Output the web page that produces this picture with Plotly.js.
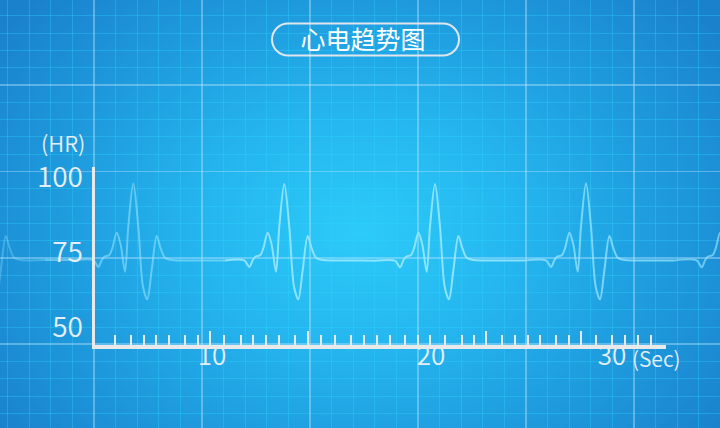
<!DOCTYPE html>
<html>
<head>
<meta charset="utf-8">
<script src="https://cdn.plot.ly/plotly-3.0.1.min.js"></script>
<style>
  html, body { margin: 0; padding: 0; }
  body { width: 720px; height: 428px; overflow: hidden;
    background: radial-gradient(ellipse 62% 78% at 50% 54%, #2ccbf9 0%, #25b6ef 35%, #1e99dc 70%, #1a82cd 100%); }
  #chart { width: 720px; height: 428px; }
</style>
</head>
<body>
<div id="chart"></div>
<script>
// ECG trace: time (seconds) and heart-rate values
const timeSec = [
  -0.395, -0.18, 0.04, 0.29, 0.49, 0.705, 1.07, 2.25, 3.5,
  4.665, 4.915, 5.09, 5.215, 5.465, 5.615, 5.835, 6.035, 6.25, 6.415, 6.665, 6.915, 7.15, 7.365, 7.585, 7.835, 8.035, 8.25, 8.615, 10.0, 11.25,
  12.215, 12.465, 12.64, 12.765, 13.015, 13.165, 13.385, 13.585, 13.8, 13.965, 14.215, 14.465, 14.7, 14.915, 15.135, 15.385, 15.585, 15.8, 16.165, 17.5, 18.75,
  19.75, 20.0, 20.175, 20.3, 20.55, 20.7, 20.92, 21.12, 21.335, 21.5, 21.75, 22.0, 22.235, 22.45, 22.67, 22.92, 23.12, 23.335, 23.7, 25.0, 26.25,
  27.3, 27.55, 27.725, 27.85, 28.1, 28.25, 28.47, 28.67, 28.885, 29.05, 29.3, 29.55, 29.785, 30.0, 30.22, 30.47, 30.67, 30.885, 31.25, 32.5, 33.75,
  34.835, 35.085, 35.26, 35.385, 35.635, 35.785, 36.005, 36.205
];
const heartRate = [
  63.43, 59.23, 69.0, 80.33, 76.23, 73.1, 72.33, 72.3, 72.3,
  72.3, 70.0, 72.33, 73.43, 74.0, 76.23, 81.43, 77.33, 68.43, 83.43, 97.8, 83.43, 63.43, 59.23, 69.0, 80.33, 76.23, 73.1, 72.33, 72.2, 72.2,
  72.2, 70.0, 72.33, 73.43, 74.0, 76.23, 81.43, 77.33, 68.43, 83.43, 97.67, 83.43, 63.43, 59.23, 69.0, 80.33, 76.23, 73.1, 72.33, 72.2, 72.1,
  72.1, 69.9, 72.33, 73.43, 74.0, 76.23, 81.43, 77.33, 68.43, 83.43, 97.67, 83.43, 63.43, 59.23, 69.0, 80.33, 76.23, 73.1, 72.33, 72.2, 72.2,
  72.2, 70.0, 72.33, 73.43, 74.0, 76.23, 81.43, 77.33, 68.43, 83.43, 97.9, 83.43, 63.43, 59.23, 69.0, 80.33, 76.23, 73.1, 72.33, 72.2, 72.2,
  72.2, 69.9, 72.33, 73.43, 74.0, 76.23, 81.43, 77.33
];
// Axis labels
const xTickVals = [10.6, 21.55, 30.6];
const xTickText = ['10', '20', '30'];
const yTickVals = [100, 75, 50];
const yTickText = ['100', '75', '50'];
// Decorative axis tick marks (seconds)
const tickMajorSec = [10.475, 15.375, 24.3, 29.05];
const tickMinorSec = [5.75, 6.525, 7.175, 7.8, 8.45, 9.25, 9.9, 11.2, 12.05, 12.65, 13.3, 13.95, 14.725,
  16.025, 16.75, 17.525, 18.175, 18.85, 19.475, 20.25, 20.875, 21.5, 22.25, 23.075, 23.675,
  25.075, 25.75, 26.375, 27.0, 27.775, 28.425, 29.8, 30.575, 31.25, 31.875, 32.525, 33.275];
const titleText = '心电趋势图';
const xUnit = '(Sec)';
const yUnit = '(HR)';

// ---- styling ----
const FONT = "'Noto Sans CJK SC', 'Noto Sans', sans-serif";
const LABEL = '#e6eef6';
const AXIS = '#e9e9e9';
const WT = 350;
// line brightness varies along the trace (glow fades toward the edges)
const segBounds = [2.25, 11.25, 26.25, 33.75];
const segAlpha = [0.32, 0.55, 0.88, 0.72, 0.62];

const traces = [];
traces.push({x: [], y: [], xaxis: 'x', yaxis: 'y', type: 'scatter', hoverinfo: 'skip'});
let seg = 0, cx = [], cy = [];
for (let i = 0; i < timeSec.length; i++) {
  cx.push(timeSec[i]); cy.push(heartRate[i]);
  if (seg < segBounds.length && timeSec[i] === segBounds[seg]) {
    traces.push({x: cx, y: cy, xaxis: 'x2', yaxis: 'y2', type: 'scatter', mode: 'lines',
      line: {color: 'rgba(155,232,255,' + segAlpha[seg] + ')', width: 2, shape: 'spline', smoothing: 0.9}, hoverinfo: 'skip'});
    seg++; cx = [timeSec[i]]; cy = [heartRate[i]];
  }
}
traces.push({x: cx, y: cy, xaxis: 'x2', yaxis: 'y2', type: 'scatter', mode: 'lines',
  line: {color: 'rgba(155,232,255,' + segAlpha[seg] + ')', width: 2, shape: 'spline', smoothing: 0.9}, hoverinfo: 'skip'});
traces.push({x: [], y: [], xaxis: 'x3', yaxis: 'y3', type: 'scatter', hoverinfo: 'skip'});

const W = 720, H = 428;
const pill = 'M 288,23.5 L 443,23.5 C 451.8,23.5 459,30.7 459,39.5 C 459,48.3 451.8,55.5 443,55.5 ' +
             'L 288,55.5 C 279.2,55.5 272,48.3 272,39.5 C 272,30.7 279.2,23.5 288,23.5 Z';

const layout = {
  width: W, height: H,
  margin: {l: 0, r: 0, t: 0, b: 0, pad: 0},
  paper_bgcolor: 'rgba(0,0,0,0)',
  plot_bgcolor: 'rgba(0,0,0,0)',
  showlegend: false,
  font: {family: FONT, color: LABEL, weight: WT},
  title: {text: titleText, x: 363 / W, y: 1 - 40 / H, xanchor: 'center', yanchor: 'middle', xref: 'paper', yref: 'paper',
    font: {family: FONT, size: 25, color: '#ffffff', weight: 400}},
  // background grid
  xaxis: {domain: [0, 1], range: [0, W], showticklabels: false, ticks: '', zeroline: false, fixedrange: true,
    showgrid: true, tickmode: 'linear', tick0: 94, dtick: 108, gridcolor: 'rgba(185,228,255,0.42)', gridwidth: 1.7,
    minor: {showgrid: true, tickmode: 'linear', tick0: 94, dtick: 21.6, gridcolor: 'rgba(45,215,255,0.33)', gridwidth: 1}},
  yaxis: {domain: [0, 1], range: [H, 0], showticklabels: false, ticks: '', zeroline: false, fixedrange: true,
    showgrid: true, tickmode: 'linear', tick0: 85.1, dtick: 86.4, gridcolor: 'rgba(185,228,255,0.42)', gridwidth: 1.7,
    minor: {showgrid: true, tickmode: 'linear', tick0: 85.1, dtick: 17.28, gridcolor: 'rgba(45,215,255,0.33)', gridwidth: 1}},
  // ECG plot
  xaxis2: {domain: [0, 1], range: [0, 36], anchor: 'y2', showgrid: false, zeroline: false, showline: false,
    ticks: '', tickmode: 'array', tickvals: xTickVals, ticktext: xTickText, ticklabelstandoff: -6,
    tickfont: {family: FONT, size: 26, color: LABEL, weight: WT}, fixedrange: true},
  yaxis2: {domain: [84 / H, 1], range: [44.333, 159], anchor: 'free', position: 95 / W, showgrid: false, zeroline: false,
    showline: false, ticks: '', tickmode: 'array', tickvals: yTickVals, ticktext: yTickText,
    tickfont: {family: FONT, size: 28, color: LABEL, weight: WT}, ticklabelstandoff: 12, fixedrange: true},
  // axis lines with tick marks
  xaxis3: {domain: [95 / W, 666 / W], range: [4.75, 33.3], anchor: 'y3', showline: true, linecolor: AXIS, linewidth: 4,
    showgrid: false, zeroline: false, showticklabels: false, ticks: 'inside', tickmode: 'array', tickvals: tickMajorSec,
    ticklen: 14, tickwidth: 2, tickcolor: AXIS,
    minor: {tickmode: 'array', tickvals: tickMinorSec, ticks: 'inside', ticklen: 10, tickwidth: 2, tickcolor: AXIS},
    fixedrange: true},
  yaxis3: {domain: [(H - 344.5) / H, (H - 167) / H], range: [0, 1], anchor: 'x3', showline: true, linecolor: AXIS, linewidth: 3,
    showgrid: false, zeroline: false, showticklabels: false, ticks: '', fixedrange: true},
  shapes: [
    {type: 'path', xref: 'x', yref: 'y', path: pill, line: {color: '#dfe6ee', width: 2}, fillcolor: 'rgba(0,0,0,0)', layer: 'above'}
  ],
  annotations: [
    {text: yUnit, xref: 'paper', yref: 'paper', x: 62.7 / W, y: 1 - 142.5 / H, xanchor: 'center', yanchor: 'middle',
      showarrow: false, font: {family: FONT, size: 22, color: LABEL, weight: WT}},
    {text: xUnit, xref: 'paper', yref: 'paper', x: 656 / W, y: 1 - 358 / H, xanchor: 'center', yanchor: 'middle',
      showarrow: false, font: {family: FONT, size: 21, color: LABEL, weight: WT}}
  ]
};

Plotly.newPlot('chart', traces, layout, {staticPlot: true, displayModeBar: false});
</script>
</body>
</html>
